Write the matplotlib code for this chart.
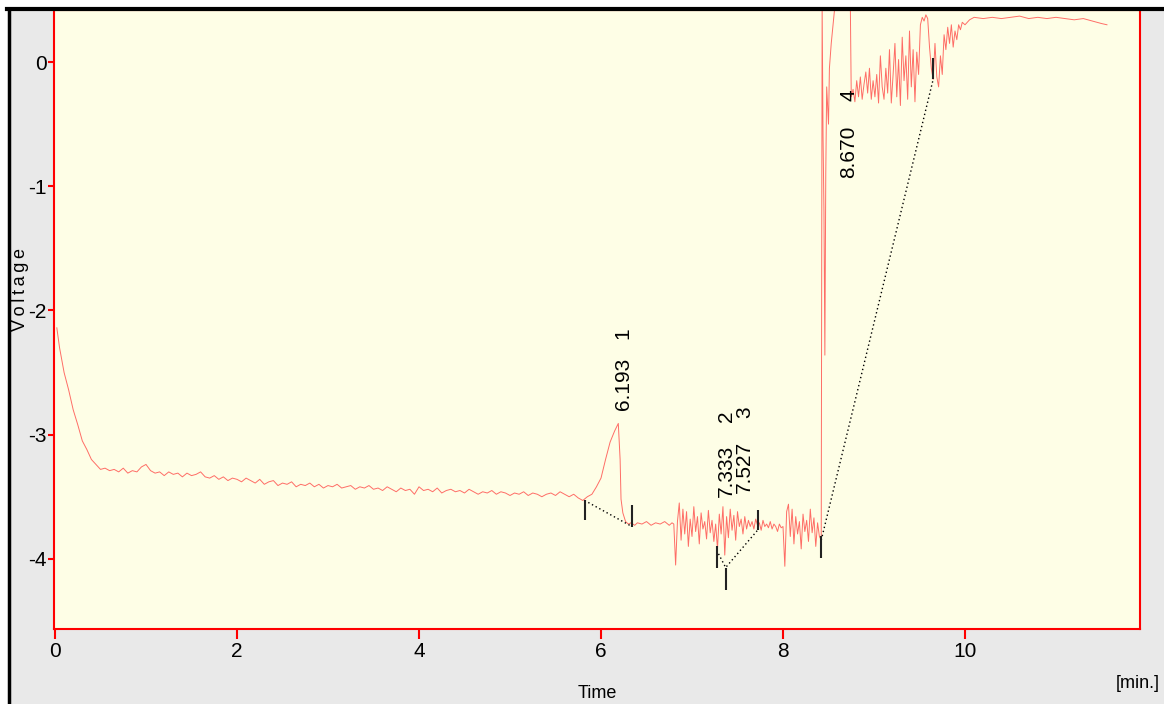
import matplotlib
matplotlib.use("Agg")
import matplotlib.pyplot as plt
from matplotlib.patches import Rectangle
from matplotlib.lines import Line2D

plt.rcParams['font.family'] = ['Liberation Sans Narrow', 'Liberation Sans', 'DejaVu Sans']
plt.rcParams['axes.unicode_minus'] = False

# detector trace (time in min, signal in V)
time = [0.02, 0.05, 0.1, 0.15, 0.2, 0.25, 0.3, 0.35, 0.4, 0.45, 0.5, 0.55, 0.6,
        0.65, 0.7, 0.75, 0.8, 0.85, 0.9, 0.95, 1.0, 1.05, 1.1, 1.15, 1.2, 1.25, 1.3,
        1.35, 1.4, 1.45, 1.5, 1.55, 1.6, 1.65, 1.7, 1.75, 1.8, 1.85, 1.9, 1.95, 2.0,
        2.05, 2.1, 2.15, 2.2, 2.25, 2.3, 2.35, 2.4, 2.45, 2.5, 2.55, 2.6, 2.65, 2.7,
        2.75, 2.8, 2.85, 2.9, 2.95, 3.0, 3.05, 3.1, 3.15, 3.2, 3.25, 3.3, 3.35, 3.4,
        3.45, 3.5, 3.55, 3.6, 3.65, 3.7, 3.75, 3.8, 3.85, 3.9, 3.95, 4.0, 4.05, 4.1,
        4.15, 4.2, 4.25, 4.3, 4.35, 4.4, 4.45, 4.5, 4.55, 4.6, 4.65, 4.7, 4.75, 4.8,
        4.85, 4.9, 4.95, 5.0, 5.05, 5.1, 5.15, 5.2, 5.25, 5.3, 5.35, 5.4, 5.45, 5.5,
        5.55, 5.6, 5.65, 5.7, 5.75, 5.8, 5.85, 5.9, 5.95, 6.0, 6.05, 6.1, 6.15, 6.19,
        6.21, 6.22, 6.24, 6.27, 6.3, 6.33, 6.37, 6.4, 6.45, 6.5, 6.55, 6.6, 6.65, 6.7,
        6.75, 6.78,
        6.80, 6.82, 6.84, 6.86, 6.88, 6.90, 6.92, 6.94, 6.96, 6.98, 7.00, 7.02, 7.04,
        7.06, 7.08, 7.10, 7.12, 7.14, 7.16, 7.18, 7.20, 7.22, 7.24, 7.26, 7.28, 7.30,
        7.32, 7.34, 7.36, 7.38, 7.40, 7.42, 7.44, 7.46, 7.48, 7.50, 7.52, 7.54, 7.56,
        7.58, 7.60, 7.62, 7.64, 7.66, 7.68, 7.70, 7.72, 7.74, 7.76, 7.78, 7.80, 7.82,
        7.84, 7.86, 7.88, 7.90, 7.92, 7.94, 7.96, 7.98, 8.00, 8.02, 8.04, 8.06, 8.08,
        8.10, 8.12, 8.14, 8.16, 8.18, 8.20, 8.22, 8.24, 8.26, 8.28, 8.30, 8.32, 8.34,
        8.36, 8.38, 8.40, 8.42,
        8.43, 8.44, 8.45, 8.46, 8.47, 8.48, 8.50, 8.51, 8.53, 8.55, 8.57, 8.74, 8.75,
        8.77, 8.79, 8.81, 8.83, 8.85, 8.87, 8.89, 8.91, 8.93, 8.95, 8.97, 8.99, 9.01,
        9.03, 9.05, 9.07, 9.09, 9.11, 9.13, 9.15, 9.17, 9.19, 9.21, 9.23, 9.25, 9.27,
        9.29, 9.31, 9.33, 9.35, 9.37, 9.39, 9.41, 9.43, 9.45, 9.47, 9.49, 9.51, 9.53,
        9.55, 9.57, 9.59, 9.61, 9.63, 9.65, 9.67, 9.69, 9.71, 9.73, 9.75, 9.77, 9.79,
        9.81, 9.83, 9.85, 9.87, 9.89, 9.91, 9.93, 9.95, 9.97, 10.0, 10.05, 10.1, 10.2,
        10.3, 10.4, 10.5, 10.6, 10.7, 10.8, 10.9, 11.0, 11.1, 11.2, 11.3, 11.4, 11.5,
        11.56]
volt = [-2.14, -2.30, -2.50, -2.64, -2.80, -2.92, -3.05, -3.12, -3.20, -3.24, -3.28, -3.27, -3.29,
        -3.28, -3.30, -3.27, -3.31, -3.29, -3.30, -3.26, -3.24, -3.29, -3.31, -3.30, -3.33, -3.30, -3.32,
        -3.31, -3.34, -3.31, -3.33, -3.32, -3.30, -3.34, -3.35, -3.33, -3.36, -3.34, -3.37, -3.35, -3.36,
        -3.38, -3.35, -3.37, -3.39, -3.36, -3.40, -3.38, -3.37, -3.41, -3.39, -3.40, -3.38, -3.42, -3.40,
        -3.41, -3.39, -3.42, -3.40, -3.43, -3.41, -3.42, -3.40, -3.43, -3.42, -3.41, -3.44, -3.42, -3.43,
        -3.41, -3.44, -3.43, -3.45, -3.42, -3.44, -3.46, -3.43, -3.45, -3.44, -3.48, -3.42, -3.45, -3.44,
        -3.46, -3.43, -3.47, -3.45, -3.44, -3.46, -3.45, -3.47, -3.44, -3.46, -3.48, -3.46, -3.47, -3.45,
        -3.48, -3.46, -3.47, -3.49, -3.47, -3.48, -3.46, -3.49, -3.47, -3.48, -3.50, -3.48, -3.47, -3.49,
        -3.46, -3.48, -3.50, -3.48, -3.51, -3.53, -3.50, -3.48, -3.42, -3.35, -3.20, -3.06, -2.97, -2.91,
        -3.20, -3.52, -3.63, -3.70, -3.72, -3.71, -3.73, -3.71, -3.72, -3.70, -3.73, -3.71, -3.72, -3.70,
        -3.73, -3.71,
        -3.72, -4.05, -3.70, -3.55, -3.85, -3.60, -3.80, -3.62, -3.90, -3.68, -3.82, -3.58, -3.78,
        -3.66, -3.88, -3.63, -3.76, -3.70, -3.84, -3.61, -3.79, -3.69, -3.86, -3.72, -3.92, -3.64,
        -3.80, -3.58, -3.97, -3.66, -3.83, -3.60, -3.77, -3.65, -3.85, -3.62, -3.74, -3.68, -3.80,
        -3.66, -3.76, -3.69, -3.74, -3.70, -3.76, -3.68, -3.73, -3.71, -3.77, -3.69, -3.74, -3.72,
        -3.75, -3.70, -3.76, -3.72, -3.74, -3.78, -3.72, -3.75, -3.74, -4.06, -3.62, -3.56, -3.82,
        -3.60, -3.88, -3.66, -3.80, -3.70, -3.92, -3.64, -3.78, -3.69, -3.86, -3.60, -3.79, -3.67,
        -3.90, -3.71, -3.82, -3.85,
        0.45, -0.60, -1.20, -2.36, -0.90, -0.20, -0.50, -0.05, 0.15, 0.30, 0.45, 0.45, -0.28,
        -0.22, -0.32, -0.15, -0.28, -0.12, -0.30, -0.18, -0.08, -0.25, -0.05, -0.30, -0.15, -0.28,
        -0.10, -0.33, 0.05, -0.20, -0.30, -0.05, -0.25, 0.10, -0.33, -0.10, 0.15, -0.28, 0.02,
        -0.35, 0.20, -0.15, 0.05, -0.30, 0.25, -0.20, 0.10, -0.32, 0.08, -0.10, 0.30, 0.36,
        0.33, 0.38, 0.35, 0.12, -0.05, -0.14, 0.15, -0.12, -0.20, 0.05, -0.10, 0.22, 0.10,
        0.28, 0.15, 0.30, 0.12, 0.25, 0.18, 0.30, 0.26, 0.32, 0.30, 0.34, 0.36, 0.35,
        0.36, 0.35, 0.36, 0.37, 0.35, 0.36, 0.35, 0.36, 0.35, 0.34, 0.35, 0.33, 0.31,
        0.30]

# integration marks: time, top, bottom
mark_t = [5.82, 6.34, 7.27, 7.37, 7.72, 8.42, 9.65]
mark_top = [-3.53, -3.57, -3.90, -4.07, -3.61, -3.82, 0.03]
mark_bot = [-3.69, -3.74, -4.07, -4.25, -3.77, -3.99, -0.14]

# baselines drawn under the peaks
base_t = [[5.82, 6.34], [7.27, 7.37, 7.72], [8.42, 9.65]]
base_v = [[-3.53, -3.74], [-3.93, -4.07, -3.77], [-3.85, -0.14]]

# peak annotations
peak_rt = [6.193, 7.333, 7.527, 8.670]
peak_no = ['1', '2', '3', '4']
rt_label_y = [-2.80, -3.50, -3.47, -0.93]
no_label_y = [-2.18, -2.85, -2.82, -0.27]

fig = plt.figure(figsize=(11.64, 7.04), dpi=100, facecolor='#e9e9e9')
ax = fig.add_axes([54/1164, 1 - 629/704, (1140 - 54)/1164, (629 - 10)/704])
ax.set_facecolor('#fefee6')

ax.plot(time, volt, color='#ff3030', lw=0.7, alpha=0.7)
for seg_t, seg_v in zip(base_t, base_v):
    ax.plot(seg_t, seg_v, color='black', lw=1.0, ls=(0, (1, 2)))
ax.vlines(mark_t, mark_bot, mark_top, color='#222222', lw=1.5)

for rt, no, y1, y2 in zip(peak_rt, peak_no, rt_label_y, no_label_y):
    ax.text(rt + 0.05, y1, f'{rt:.3f}', rotation=90, ha='center', va='bottom',
            fontsize=15)
    ax.text(rt + 0.05, y2, no, rotation=90, ha='center', va='center', fontsize=15)

ax.set_xlim(-0.011, 11.923)
ax.set_ylim(-4.565, 0.419)
ax.set_xticks([0, 2, 4, 6, 8, 10])
ax.set_yticks([0, -1, -2, -3, -4])
ax.tick_params(axis='x', colors='red', length=7.5, width=1.5, pad=2, labelcolor='black',
               labelsize=15)
ax.tick_params(axis='y', colors='red', length=4.3, width=1.5, pad=1, labelcolor='black',
               labelsize=15)
for s in ax.spines.values():
    s.set_color('red')
    s.set_linewidth(1.5)

fig.text(21/1164, 1 - 290/704, '\u2009'.join('Voltage'), rotation=90, ha='center',
         va='center', fontsize=13)
fig.text(597/1164, 1 - 694/704, 'Time', ha='center', va='center', fontsize=13)
fig.text(1138/1164, 1 - 683/704, '[min.]', ha='center', va='center', fontsize=13)

# outer window frame
fig.patches.append(Rectangle((0, 1 - 7/704), 1, 7/704, transform=fig.transFigure,
                             color='white', zorder=5))
fig.patches.append(Rectangle((0, 0), 7/1164, 1, transform=fig.transFigure,
                             color='white', zorder=5))
fig.lines.append(Line2D([7/1164, 1], [1 - 8.5/704, 1 - 8.5/704], transform=fig.transFigure,
                        color='black', lw=3, zorder=6))
fig.lines.append(Line2D([8.5/1164, 8.5/1164], [0, 1 - 8.5/704], transform=fig.transFigure,
                        color='black', lw=2.5, zorder=6))

fig.savefig('out.png', dpi=100, facecolor=fig.get_facecolor())
